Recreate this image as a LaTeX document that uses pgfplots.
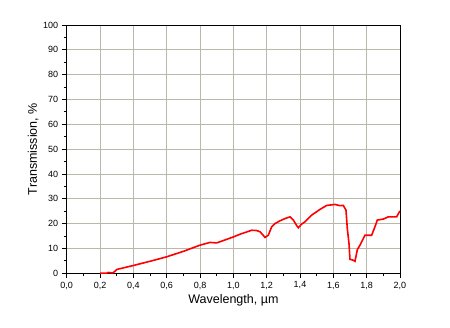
\documentclass[border=0pt]{standalone}
\usepackage{pgfplots}
\pgfplotsset{compat=1.18}
\usepackage{fontspec}
\setmainfont{Liberation Sans}
\definecolor{gridc}{RGB}{186,184,170}
\begin{document}
\begin{tikzpicture}
\begin{axis}[
  scale only axis,
  width=333pt, height=248pt,
  xmin=0, xmax=2, ymin=0, ymax=100,
  xtick={0,0.2,...,2.0},
  ytick={0,10,...,100},
  minor x tick num=1,
  minor y tick num=1,
  tick align=outside,
  axis line style={black, line width=0.8pt},
  major tick length=5pt,
  minor tick length=3pt,
  tick style={black, line width=0.8pt},
  xtick pos=bottom, ytick pos=left,
  xmajorgrids, ymajorgrids,
  major grid style={gridc, line width=0.8pt},
  /pgf/number format/assume math mode=true,
  x tick label style={/pgf/number format/.cd, fixed, fixed zerofill, precision=1, use comma},
  y tick label style={/pgf/number format/.cd, fixed, precision=0},
  tick label style={font=\fontsize{9}{10}\selectfont},
  label style={font=\fontsize{12.5}{14}\selectfont},
  xlabel={Wavelength, µm},
  ylabel={Transmission, \%},
  xlabel style={at={(axis description cs:0.5,-0.109)}, anchor=center},
  ylabel style={at={(axis description cs:-0.101,0.5)}, anchor=center},
]
\addplot[red, line width=1.6pt] coordinates {
(0.20,0) (0.24,0) (0.25,0.3) (0.27,0.1) (0.28,0.2) (0.30,1.5) (0.35,2.3) (0.40,3.1)
(0.50,4.8) (0.60,6.6) (0.70,8.8) (0.80,11.3) (0.86,12.4) (0.90,12.2)
(0.95,13.4) (1.00,14.6) (1.04,15.7) (1.08,16.6) (1.11,17.3) (1.14,17.2) (1.16,16.7)
(1.18,15.2) (1.19,14.4) (1.21,15.3) (1.23,18.7) (1.25,20.0) (1.28,21.1) (1.31,22.0) (1.34,22.7)
(1.36,21.4) (1.38,19.2) (1.39,18.3) (1.41,19.8) (1.43,20.7) (1.47,23.4) (1.52,25.7)
(1.56,27.3) (1.61,27.7) (1.64,27.2) (1.66,27.3) (1.676,25.4) (1.684,18.0) (1.694,12.0)
(1.70,5.6) (1.72,5.2) (1.73,4.8) (1.744,9.5) (1.76,11.3) (1.79,15.3) (1.83,15.3)
(1.85,18.7) (1.864,21.4) (1.90,21.8) (1.93,22.7) (1.98,22.7) (2.0,25.1)
};
\end{axis}
\path (current axis.south west) ++(-66.7pt,-54pt) coordinate (bbsw);
\path (current axis.north east) ++(50pt,25pt) coordinate (bbne);
\path (bbsw) rectangle (bbne);
\end{tikzpicture}
\end{document}
